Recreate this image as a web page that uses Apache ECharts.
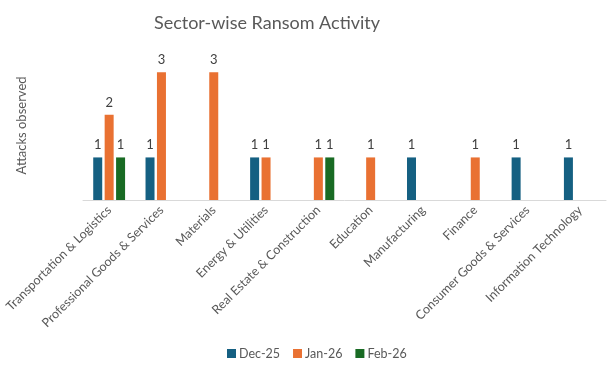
<!DOCTYPE html>
<html><head><meta charset="utf-8">
<script src="https://cdn.jsdelivr.net/npm/echarts@6/dist/echarts.min.js"></script>
<style>html,body{margin:0;padding:0;background:#fff}#c{width:615px;height:366px}</style>
</head><body><div id="c"></div>
<script>
const categories = ["Transportation & Logistics","Professional Goods & Services","Materials","Energy & Utilities","Real Estate & Construction","Education","Manufacturing","Finance","Consumer Goods & Services","Information Technology"];
const seriesNames = ["Dec-25","Jan-26","Feb-26"];
const dec25 = [1,1,null,1,null,null,1,null,1,1];
const jan26 = [2,3,3,1,1,1,null,1,null,null];
const feb26 = [1,null,null,null,1,null,null,null,null,null];
const colors = ["#156082","#E97132","#196B24"];
const font = "Lato, 'Open Sans', sans-serif";
const chart = echarts.init(document.getElementById('c'));
const mk = (name, data, color) => ({
  name, type:'bar', data, barWidth:9, barGap:'27%',
  itemStyle:{color},
  label:{show:true, position:'top', distance:6, color:'#404040', fontSize:13, fontFamily:font}
});
chart.setOption({
  animation:false,
  title:{text:'Sector-wise Ransom Activity', left:262, textAlign:'center', top:9,
    textStyle:{fontSize:18, fontWeight:'normal', color:'#595959', fontFamily:font}},
  grid:{left:83, right:9, top:51, bottom:166},
  legend:{bottom:1, left:222, itemWidth:9, itemHeight:9, itemGap:13, icon:'rect',
    textStyle:{fontSize:12.5, color:'#595959', fontFamily:font, padding:[0,0,0,-2]}},
  xAxis:{type:'category', data:categories,
    axisLine:{lineStyle:{color:'#d9d9d9', width:1}}, axisTick:{show:false},
    axisLabel:{rotate:45, interval:0, color:'#595959', fontSize:12.5, fontFamily:font, margin:8}},
  yAxis:{type:'value', min:0, max:3.5, show:true,
    name:'Attacks observed', nameLocation:'middle', nameGap:55, nameRotate:90,
    nameTextStyle:{fontSize:13, color:'#595959', fontFamily:font},
    axisLine:{show:false}, axisTick:{show:false}, axisLabel:{show:false}, splitLine:{show:false}},
  series:[mk(seriesNames[0],dec25,colors[0]), mk(seriesNames[1],jan26,colors[1]), mk(seriesNames[2],feb26,colors[2])]
});
</script></body></html>
